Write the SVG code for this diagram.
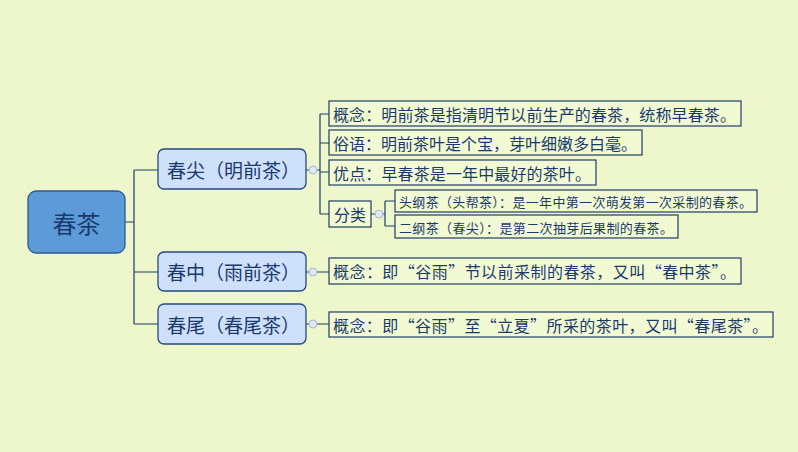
<svg xmlns="http://www.w3.org/2000/svg" width="798" height="452" viewBox="0 0 798 452">
<style>
text{font-family:"Noto Sans CJK SC","Liberation Sans",sans-serif;fill:#1a3a6e;dominant-baseline:central}
.b{fill:#cfe0fb;stroke:#27497e;stroke-width:1.3}
.l{fill:#f2fad4;stroke:#1f3c66;stroke-width:1.2}
.c{fill:none;stroke:#1f3c66;stroke-width:1.2}
.k{fill:#dfe6f5;stroke:#aab8d8;stroke-width:1}
</style>
<rect width="798" height="452" fill="#eef7cc"/>
<g id="connectors" class="c">
<path d="M125 222H134M134 170V324M134 170H158M134 272H158M134 324H158"/>
<path d="M306 170H320M320 114V214M320 114H329M320 143H329M320 172H329M320 214H329"/>
<path d="M371 214H385M385 201V226M385 201H395M385 226H395"/>
<path d="M306 272H329M306 324H329"/>
</g>
<g class="k"><circle cx="313" cy="170" r="4"/><circle cx="313" cy="272" r="4"/><circle cx="313" cy="324" r="4"/><circle cx="379" cy="214" r="4"/></g>
<g id="root"><rect x="28" y="191" width="97" height="62" rx="8" fill="#5d9ad8" stroke="#2c5a94" stroke-width="1.3"/><text x="76.500" y="222" font-size="24" text-anchor="middle">春茶</text></g>
<g id="b1"><rect class="b" x="158" y="149" width="148" height="40" rx="6"/><text x="167" y="169" font-size="19" textLength="133" lengthAdjust="spacing">春尖（明前茶）</text></g>
<g id="b2"><rect class="b" x="158" y="252" width="148" height="39" rx="6"/><text x="167" y="271" font-size="19" textLength="133" lengthAdjust="spacing">春中（雨前茶）</text></g>
<g id="b3"><rect class="b" x="158" y="304" width="148" height="40" rx="6"/><text x="167" y="324" font-size="19" textLength="133" lengthAdjust="spacing">春尾（春尾茶）</text></g>
<g id="l1"><rect class="l" x="329" y="101" width="412" height="25"/><text x="333" y="114" font-size="16" textLength="403" lengthAdjust="spacing">概念：明前茶是指清明节以前生产的春茶，统称早春茶。</text></g>
<g id="l2"><rect class="l" x="329" y="130" width="313" height="25"/><text x="333" y="143" font-size="16" textLength="304" lengthAdjust="spacing">俗语：明前茶叶是个宝，芽叶细嫩多白毫。</text></g>
<g id="l3"><rect class="l" x="329" y="160" width="267" height="25"/><text x="333" y="173" font-size="16" textLength="258" lengthAdjust="spacing">优点：早春茶是一年中最好的茶叶。</text></g>
<g id="l4"><rect class="l" x="329" y="201" width="42" height="26"/><text x="350" y="214" font-size="16" text-anchor="middle">分类</text></g>
<g id="s1"><rect class="l" x="395" y="190" width="362" height="22"/><text x="399" y="201" font-size="13" textLength="353" lengthAdjust="spacing">头纲茶（头帮茶）：是一年中第一次萌发第一次采制的春茶。</text></g>
<g id="s2"><rect class="l" x="395" y="215" width="283" height="23"/><text x="399" y="227" font-size="13" textLength="274" lengthAdjust="spacing">二纲茶（春尖）：是第二次抽芽后果制的春茶。</text></g>
<g id="l5"><rect class="l" x="329" y="258" width="412" height="26"/><text x="333" y="271" font-size="16" textLength="403" lengthAdjust="spacing">概念：即“谷雨”节以前采制的春茶，又叫“春中茶”。</text></g>
<g id="l6"><rect class="l" x="329" y="312" width="444" height="25"/><text x="333" y="325" font-size="16" textLength="435" lengthAdjust="spacing">概念：即“谷雨”至“立夏”所采的茶叶，又叫“春尾茶”。</text></g>
</svg>
